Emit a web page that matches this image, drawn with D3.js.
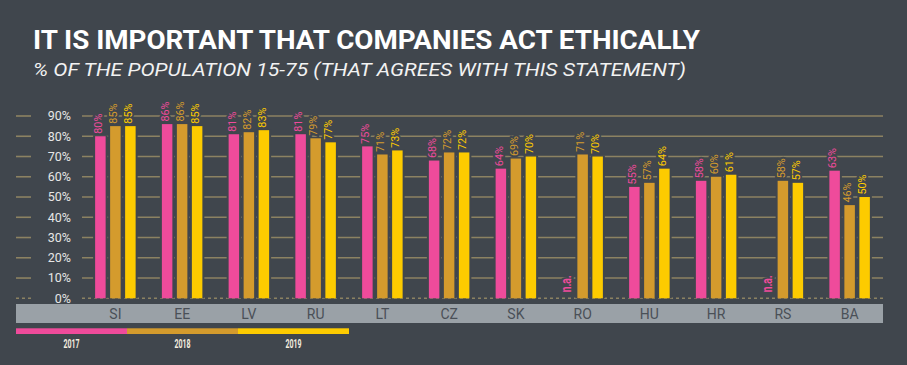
<!DOCTYPE html>
<html><head><meta charset="utf-8">
<script src="https://cdn.jsdelivr.net/npm/d3@7"></script>
<style>
html,body{margin:0;padding:0;background:#40464d;}
svg{display:block;}
</style></head>
<body>
<svg id="chart" width="907" height="365"></svg>
<script>
const countries = ["SI","EE","LV","RU","LT","CZ","SK","RO","HU","HR","RS","BA"];
const years = ["2017","2018","2019"];
const v2017 = [80,86,81,81,75,68,64,null,55,58,null,63];
const v2018 = [85,86,82,79,71,72,69,71,57,60,58,46];
const v2019 = [85,85,83,77,73,72,70,70,64,61,57,50];
const yTicks = [0,10,20,30,40,50,60,70,80,90];
const colors = ["#ef4b9b","#d49b2d","#fdcb00"];
const titleText = "IT IS IMPORTANT THAT COMPANIES ACT ETHICALLY";
const subtitleText = "% OF THE POPULATION 15-75 (THAT AGREES WITH THIS STATEMENT)";

const BG = "#40464d";
const GRID = "#8c8262";
const series = [v2017, v2018, v2019];
const NARROW = "'Liberation Sans Narrow','Roboto','Liberation Sans',sans-serif";

const svg = d3.select("#chart");
svg.append("rect").attr("width",907).attr("height",365).attr("fill",BG);

// Titles
svg.append("text").attr("x",33).attr("y",49)
  .attr("font-family",NARROW)
  .attr("font-weight","bold").attr("font-size",25).attr("fill","#ffffff")
  .attr("textLength",667).attr("lengthAdjust","spacingAndGlyphs")
  .text(titleText);
svg.append("text").attr("x",33).attr("y",76)
  .attr("font-family",NARROW)
  .attr("font-style","italic").attr("font-size",19).attr("fill","#f2f2f2")
  .attr("textLength",653).attr("lengthAdjust","spacingAndGlyphs")
  .text(subtitleText);

const y = d3.scaleLinear().domain([0,90]).range([298.3,116]);
const x = d3.scaleBand().domain(countries).range([82,883]);
const xs = d3.scaleBand().domain(years).range([0,45]).paddingInner(0.3).paddingOuter(0.15);

// gridlines
const g = svg.append("g");
yTicks.forEach(t => {
  const yy = y(t);
  const dash = t===0 ? "3,3" : null;
  g.append("line").attr("x1",16).attr("x2",31).attr("y1",yy).attr("y2",yy)
    .attr("stroke",GRID).attr("stroke-width",1.6).attr("stroke-dasharray",dash);
  g.append("line").attr("x1",82).attr("x2",883).attr("y1",yy).attr("y2",yy)
    .attr("stroke",GRID).attr("stroke-width",1.6).attr("stroke-dasharray",dash);
  g.append("text").attr("x",71).attr("y",yy).attr("dy","0.35em")
    .attr("text-anchor","end").attr("font-family","Roboto,'Liberation Sans',sans-serif")
    .attr("font-size",12.5).attr("fill","#e6e6e6").text(t+"%");
});

// bars
const groups = svg.append("g").selectAll("g").data(countries).join("g")
  .attr("transform", d => `translate(${x(d) + x.bandwidth()/2 - 22.5},0)`);

years.forEach((yr, si) => {
  groups.each(function(c, ci) {
    const val = series[si][ci];
    const gg = d3.select(this);
    const bx = xs(yr), bw = xs.bandwidth();
    const cx = bx + bw/2;
    if (val === null) {
      gg.append("text")
        .attr("transform", `translate(${cx+3.7},${y(0)-6}) rotate(-90) scale(0.68,1)`)
        .attr("font-family",NARROW)
        .attr("font-weight","bold")
        .attr("font-size",15).attr("fill",colors[si])
        .attr("stroke",BG).attr("stroke-width",5).attr("paint-order","stroke")
        .text("n.a.");
      return;
    }
    gg.append("rect").attr("x",bx-2).attr("width",bw+4)
      .attr("y",y(val)-1).attr("height",y(0)-y(val)+1).attr("fill",BG);
    gg.append("rect").attr("x",bx).attr("width",bw)
      .attr("y",y(val)).attr("height",y(0)-y(val)).attr("fill",colors[si]);
    gg.append("text")
      .attr("transform", `translate(${cx+1.8},${y(val)-2.5}) rotate(-90)`)
      .attr("font-family",NARROW)
      .attr("font-size",10.8).attr("fill",colors[si])
      .attr("stroke",BG).attr("stroke-width",4).attr("paint-order","stroke")
      .text(val+"%");
  });
});

// x axis band
svg.append("rect").attr("x",16).attr("y",304).attr("width",867).attr("height",19)
  .attr("fill","#9aa1a7");
const xAxis = d3.axisBottom(x).tickSize(0).tickPadding(0);
const ax = svg.append("g").attr("transform","translate(0,309)").call(xAxis);
ax.select(".domain").remove();
ax.selectAll("text").attr("font-family","Roboto,'Liberation Sans',sans-serif")
  .attr("font-size",14).attr("fill","#4a5057").attr("dy","0.71em");

// legend
const lx = d3.scaleBand().domain(years).range([16,349]);
const leg = svg.append("g").selectAll("g").data(years).join("g");
leg.append("rect").attr("x",d=>lx(d)).attr("y",328.3).attr("width",lx.bandwidth()).attr("height",5.7)
  .attr("fill",(d,i)=>colors[i]);
leg.append("text").attr("x",d=>lx(d)+lx.bandwidth()/2 - 8).attr("y",347.7)
  .attr("font-family",NARROW)
  .attr("font-weight","bold").attr("font-size",13).attr("fill","#f3ecdf")
  .attr("textLength",16).attr("lengthAdjust","spacingAndGlyphs")
  .text(d=>d);
</script>
</body></html>
